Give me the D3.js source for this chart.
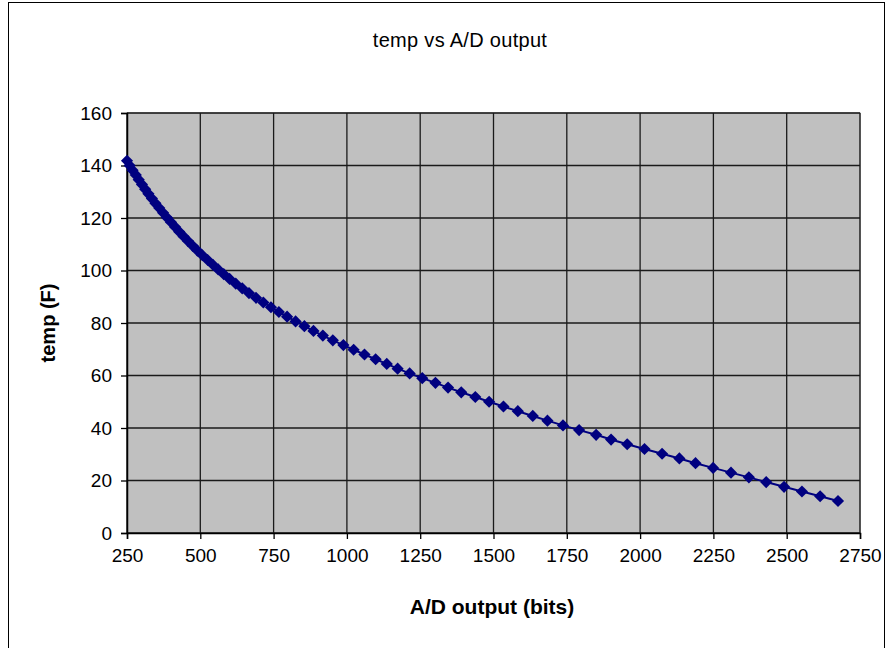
<!DOCTYPE html>
<html>
<head>
<meta charset="utf-8">
<script src="https://cdn.jsdelivr.net/npm/d3@7"></script>
<style>
	body { margin: 0; background: #fff; }
	svg { display: block; }
	text { font-family: "Liberation Sans", Arial, sans-serif; fill: #000; }
</style>
</head>
<body>
<svg id="main" width="893" height="648"></svg>
<script>
const adBits = [250, 259, 269, 280, 290, 301, 312, 323, 335, 347,
	360, 373, 386, 400, 414, 428, 443, 458, 474, 490,
	507, 525, 543, 561, 580, 600, 621, 643, 666, 690,
	715, 741, 768, 796, 825, 855, 886, 918, 952, 988,
	1023, 1060, 1098, 1136, 1173, 1214, 1257, 1302, 1345, 1390,
	1438, 1485, 1534, 1583, 1634, 1684, 1737, 1792, 1850, 1901,
	1956, 2015, 2075, 2134, 2189, 2249, 2310, 2371, 2430, 2491,
	2552, 2614, 2675];

const tempF = [141.8, 140, 138.2, 136.4, 134.6, 132.8, 131, 129.2, 127.4, 125.6,
	123.8, 122, 120.2, 118.4, 116.6, 114.8, 113, 111.2, 109.4, 107.6,
	105.8, 104, 102.2, 100.4, 98.6, 96.8, 95, 93.2, 91.4, 89.6,
	87.8, 86, 84.2, 82.4, 80.6, 78.8, 77, 75.2, 73.4, 71.6,
	69.8, 68, 66.2, 64.4, 62.6, 60.8, 59, 57.2, 55.4, 53.6,
	51.8, 50, 48.2, 46.4, 44.6, 42.8, 41, 39.2, 37.4, 35.6,
	33.8, 32, 30.2, 28.4, 26.6, 24.8, 23, 21.2, 19.4, 17.6,
	15.8, 14, 12.2];

const xTicks = [250, 500, 750, 1000, 1250, 1500, 1750, 2000, 2250, 2500, 2750];
const yTicks = [0, 20, 40, 60, 80, 100, 120, 140, 160];

const chartTitle = "temp vs A/D output";
const xTitle = "A/D output (bits)";
const yTitle = "temp (F)";

var svg = d3.select("#main");
var plot = {left: 127, right: 860, top: 113, bottom: 533};

var x = d3.scaleLinear().domain([250, 2750]).range([plot.left, plot.right]);
var y = d3.scaleLinear().domain([0, 160]).range([plot.bottom, plot.top]);

// outer chart frame
svg.append("rect")
	.attr("x", 8.5).attr("y", 2.5)
	.attr("width", 876).attr("height", 700)
	.style("fill", "white")
	.style("stroke", "black");

// plot area
svg.append("rect")
	.attr("x", plot.left).attr("y", plot.top)
	.attr("width", plot.right - plot.left)
	.attr("height", plot.bottom - plot.top)
	.style("fill", "#c0c0c0")
	.style("stroke", "#808080");

/*
	gridlines
*/
svg.append("g").selectAll("line")
	.data(yTicks)
	.join("line")
	.attr("x1", plot.left).attr("x2", plot.right)
	.attr("y1", d => y(d)).attr("y2", d => y(d))
	.style("stroke", "#1a1a1a")
	.style("stroke-width", 1.3);

svg.append("g").selectAll("line")
	.data(xTicks)
	.join("line")
	.attr("x1", d => x(d)).attr("x2", d => x(d))
	.attr("y1", plot.top).attr("y2", plot.bottom)
	.style("stroke", "#1a1a1a")
	.style("stroke-width", 1.3);

/*
	axes
*/
var xAxis = svg.append("g")
	.attr("transform", "translate(0," + plot.bottom + ")")
	.call(d3.axisBottom(x).tickValues(xTicks).tickSize(6).tickPadding(10).tickFormat(d3.format("d")));

var yAxis = svg.append("g")
	.attr("transform", "translate(" + plot.left + ",0)")
	.call(d3.axisLeft(y).tickValues(yTicks).tickSize(6).tickPadding(9).tickFormat(d3.format("d")));

[xAxis, yAxis].forEach(function(ax) {
	ax.select(".domain").style("stroke", "black").style("stroke-width", 1.5);
	ax.selectAll(".tick line").style("stroke", "black").style("stroke-width", 1.3);
	ax.selectAll("text")
		.style("font-family", "'Liberation Sans', Arial, sans-serif")
		.style("font-size", "19px")
		.style("fill", "black");
});

/*
	series: line + diamond markers
*/
var points = adBits.map((v, i) => ({bits: v, temp: tempF[i]}));

svg.append("path")
	.datum(points)
	.attr("d", d3.line().x(d => x(d.bits)).y(d => y(d.temp)))
	.style("fill", "none")
	.style("stroke", "#000080")
	.style("stroke-width", 2);

var diamond = d3.symbol().type(d3.symbolSquare).size(74);
svg.append("g").selectAll("path")
	.data(points)
	.join("path")
	.attr("d", diamond)
	.attr("transform", d => "translate(" + x(d.bits) + "," + y(d.temp) + ") rotate(45)")
	.style("fill", "#000080");

/*
	titles
*/
svg.append("text")
	.attr("x", 460).attr("y", 47)
	.attr("text-anchor", "middle")
	.style("font-size", "20px")
	.style("letter-spacing", "0.3px")
	.text(chartTitle);

svg.append("text")
	.attr("x", 492).attr("y", 614)
	.attr("text-anchor", "middle")
	.style("font-size", "21px")
	.style("font-weight", "bold")
	.text(xTitle);

svg.append("text")
	.attr("transform", "translate(55," + (plot.top + plot.bottom) / 2 + ") rotate(-90)")
	.attr("text-anchor", "middle")
	.style("font-size", "20px")
	.style("font-weight", "bold")
	.text(yTitle);
</script>
</body>
</html>
